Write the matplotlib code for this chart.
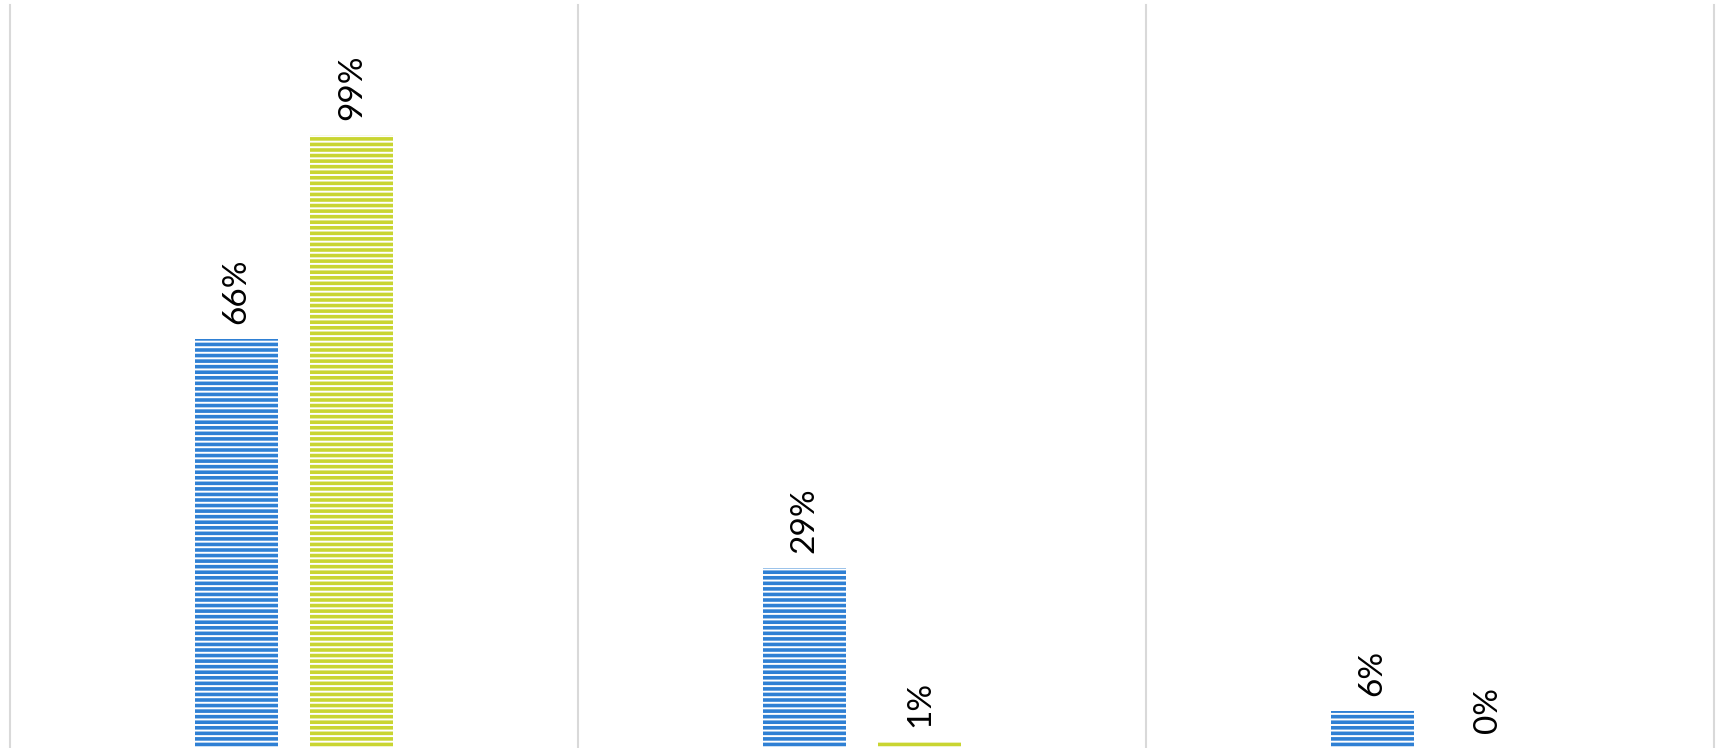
import numpy as np
import matplotlib.pyplot as plt

# values per group
groups = ['A', 'B', 'C']
blue_vals = [0.66, 0.29, 0.06]
green_vals = [0.99, 0.01, 0.00]

blue_color = '#2F80D4'
green_color = '#C9D531'

plt.rcParams['font.family'] = ['Lato', 'DejaVu Sans']
plt.rcParams['hatch.linewidth'] = 1.4

fig = plt.figure(figsize=(17.17, 7.48), dpi=100)
ax = fig.add_axes([10 / 1717, 0, 1704 / 1717, 743 / 748])

x = np.arange(len(groups))
width = 0.146
offset = 0.102

b1 = ax.bar(x - offset, blue_vals, width, color=blue_color,
            edgecolor='white', linewidth=0, hatch='---')
b2 = ax.bar(x + offset, green_vals, width, color=green_color,
            edgecolor='white', linewidth=0, hatch='---')

# value labels, rotated
for bars, vals in [(b1, blue_vals), (b2, green_vals)]:
    for bar, v in zip(bars, vals):
        ax.annotate('{:.0%}'.format(v),
                    (bar.get_x() + bar.get_width() / 2, v),
                    xytext=(0, 11), textcoords='offset points',
                    rotation=90, ha='center', va='bottom',
                    fontsize=24, color='black')

# group separators
for xs in [-0.5, 0.5, 1.5, 2.5]:
    ax.axvline(xs, color='#D9D9D9', linewidth=1.5, clip_on=False)

ax.set_xlim(-0.5, 2.5)
ax.set_ylim(0, 1.2)
ax.set_xticks([])
ax.set_yticks([])
for s in ax.spines.values():
    s.set_visible(False)

fig.savefig('out.png', dpi=100)
